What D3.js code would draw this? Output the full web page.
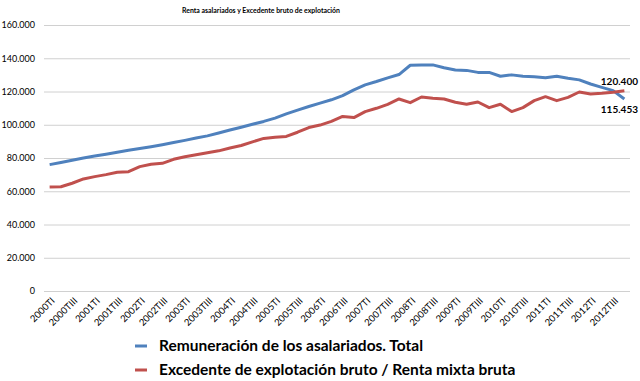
<!DOCTYPE html>
<html>
<head>
<meta charset="utf-8">
<script src="https://cdnjs.cloudflare.com/ajax/libs/d3/7.8.5/d3.min.js"></script>
<style>
  body { margin: 0; background: #fff; }
  text { font-family: Lato, "Open Sans", sans-serif; fill: #000; }
</style>
</head>
<body>
<div id="chart"></div>
<script>
// data: quarters 2000TI .. 2012TIV (millones de euros)
var years = d3.range(2000, 2013);
var quarterNames = ["TI", "TII", "TIII", "TIV"];

var remuneracion = [
  76.0, 77.3, 78.7, 80.0, 81.2, 82.3, 83.5, 84.6, 85.7, 86.8,
  88.0, 89.3, 90.6, 92.0, 93.3, 95.0, 96.8, 98.5, 100.3, 102.0,
  104.0, 106.5, 108.8, 111.0, 113.0, 115.0, 117.5, 121.0, 124.0, 126.0,
  128.2, 130.2, 135.8, 136.0, 136.0, 134.3, 132.9, 132.7, 131.5, 131.5,
  129.2, 130.0, 129.2, 128.8, 128.3, 129.2, 128.0, 127.0, 124.5, 122.5,
  120.5, 115.453
];

var excedente = [
  62.5, 62.7, 64.8, 67.4, 68.8, 70.0, 71.4, 71.8, 74.8, 76.2,
  76.8, 79.2, 80.8, 82.0, 83.2, 84.3, 86.0, 87.5, 89.7, 91.8,
  92.5, 93.0, 95.5, 98.3, 99.8, 102.0, 105.0, 104.3, 107.9, 109.9,
  112.3, 115.5, 113.3, 116.7, 115.9, 115.5, 113.5, 112.3, 113.7, 110.3,
  112.3, 107.9, 110.3, 114.5, 116.9, 114.5, 116.5, 119.7, 118.5, 118.9,
  119.5, 120.4
];

var seriesNames = ["Remuneración de los asalariados. Total",
                   "Excedente de explotación bruto / Renta mixta bruta"];
var seriesColors = ["#4F81BD", "#C0504D"];
var yTicks = [0, 20, 40, 60, 80, 100, 120, 140, 160];

var quarters = [];
years.forEach(function(y) {
  quarterNames.forEach(function(q) { quarters.push(y + q); });
});

var width = 640, height = 381;

var svg = d3.select("#chart")
  .append("svg")
    .attr("width", width)
    .attr("height", height);

// title
svg.append("text")
  .attr("x", 261)
  .attr("y", 13)
  .attr("text-anchor", "middle")
  .attr("textLength", 158)
  .attr("lengthAdjust", "spacingAndGlyphs")
  .style("font-size", "8px")
  .style("font-weight", "bold")
  .text("Renta asalariados y Excedente bruto de explotación");

// scales
var x = d3.scalePoint()
  .domain(quarters)
  .range([44, 630])
  .padding(0.5);

var y = d3.scaleLinear()
  .domain([0, 160])
  .range([291, 25]);

var thousands = function(v) { return v === 0 ? "0" : (v + ".000"); };

// gridlines + y axis labels
var yAxis = svg.append("g")
  .attr("transform", "translate(44,0)")
  .call(d3.axisLeft(y).tickValues(yTicks).tickSize(-586).tickFormat(thousands).tickPadding(9));
yAxis.select(".domain").remove();
yAxis.selectAll(".tick line").attr("stroke", "#d0d0d0").attr("stroke-width", 1);
yAxis.selectAll(".tick text")
  .attr("font-family", "Lato, sans-serif")
  .style("font-size", "9px")
  .attr("fill", "#000");

// x axis labels (every other quarter)
var xAxis = svg.append("g")
  .attr("transform", "translate(0,291)")
  .call(d3.axisBottom(x).tickSize(0).tickValues(quarters.filter(function(d, i) { return i % 2 === 0; })));
xAxis.select(".domain").remove();
xAxis.selectAll(".tick text")
  .attr("font-family", "Lato, sans-serif")
  .style("font-size", "9.5px")
  .attr("fill", "#000")
  .attr("text-anchor", "end")
  .attr("dy", "0.35em")
  .attr("y", 0)
  .attr("transform", "translate(3,8) rotate(-45)");

// lines
var line = d3.line()
  .x(function(d, i) { return x(quarters[i]); })
  .y(function(d) { return y(d); });

[remuneracion, excedente].forEach(function(s, k) {
  svg.append("path")
    .datum(s)
    .attr("fill", "none")
    .attr("stroke", seriesColors[k])
    .attr("stroke-width", 3)
    .attr("stroke-linejoin", "round")
    .attr("d", line);
});

// data labels on last point
var last = quarters.length - 1;
svg.append("text")
  .attr("x", 638)
  .attr("y", y(excedente[last]) - 6)
  .attr("text-anchor", "end")
  .style("font-size", "10px")
  .style("font-weight", "bold")
  .text(d3.format(".3f")(excedente[last]));
svg.append("text")
  .attr("x", 638)
  .attr("y", y(remuneracion[last]) + 14)
  .attr("text-anchor", "end")
  .style("font-size", "10px")
  .style("font-weight", "bold")
  .text(d3.format(".3f")(remuneracion[last]));

// legend
var legend = svg.selectAll(".legend")
  .data(seriesNames)
  .enter()
  .append("g")
    .attr("transform", function(d, i) { return "translate(135," + (346 + i * 24) + ")"; });
legend.append("line")
  .attr("x1", 0).attr("x2", 12)
  .attr("stroke", function(d, i) { return seriesColors[i]; })
  .attr("stroke-width", 3);
legend.append("text")
  .attr("x", 24)
  .attr("dy", "0.35em")
  .style("font-size", "15.5px")
  .style("font-weight", "bold")
  .text(function(d) { return d; });
</script>
</body>
</html>
